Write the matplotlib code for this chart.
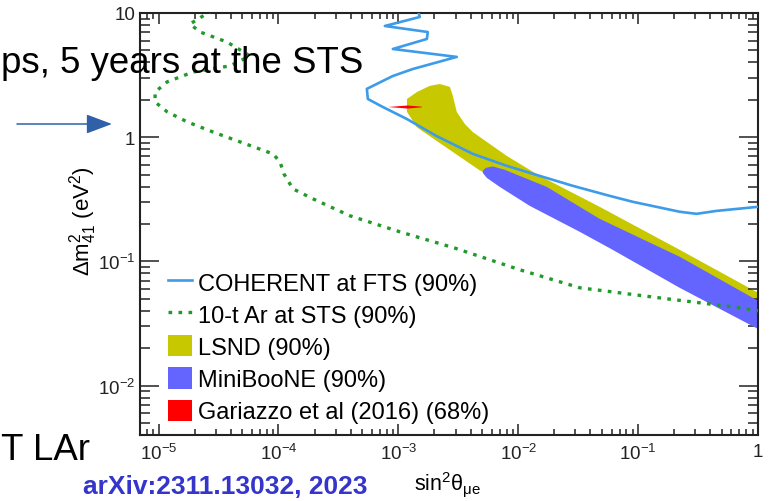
import matplotlib
matplotlib.use("Agg")
import matplotlib.pyplot as plt
import numpy as np
from matplotlib.ticker import FuncFormatter, LogLocator, NullFormatter
from matplotlib.lines import Line2D
from matplotlib.patches import Patch

plt.rcParams['font.family'] = ['Liberation Sans', 'DejaVu Sans']
plt.rcParams['mathtext.fontset'] = 'custom'
plt.rcParams['mathtext.rm'] = 'Liberation Sans'
plt.rcParams['mathtext.it'] = 'Liberation Sans:italic'
plt.rcParams['mathtext.default'] = 'regular'

# COHERENT at FTS (90%) contour
coh_x = np.array([1.45e-3, 1.51e-3, 7.72e-4, 1.76e-3, 1.73e-3, 9.0e-4, 3.07e-3, 1.32e-3,
                  9.0e-4, 5.46e-4, 5.57e-4, 7.43e-4, 1.18e-3, 2.09e-3, 4.18e-3, 8.02e-3,
                  0.0151, 0.0285, 0.0579, 0.090, 0.222, 0.307, 0.451, 1.0])
coh_y = np.array([10.5, 9.29, 7.86, 7.03, 6.18, 5.13, 4.43, 3.54,
                  3.11, 2.45, 2.03, 1.75, 1.40, 1.02, 0.734, 0.588,
                  0.488, 0.406, 0.337, 0.302, 0.251, 0.2415, 0.255, 0.275])

# 10-t Ar at STS (90%) sensitivity
ar_x = np.array([2.79e-5, 1.83e-5, 2.22e-5, 3.72e-5, 5.79e-5, 3.94e-5, 1.94e-5, 1.18e-5,
                 9.35e-6, 9.35e-6, 1.18e-5, 1.73e-5, 2.85e-5, 4.78e-5, 9.0e-5, 1.03e-4,
                 1.11e-4, 1.32e-4, 1.94e-4, 3.94e-4, 1.03e-3, 2.96e-3, 0.0103, 0.0326,
                 0.173, 0.613, 1.0])
ar_y = np.array([10.5, 8.16, 7.03, 5.84, 4.51, 3.75, 3.35, 2.79,
                 2.31, 1.92, 1.60, 1.33, 1.10, 0.917, 0.734, 0.633,
                 0.507, 0.384, 0.319, 0.233, 0.173, 0.128, 0.0856, 0.0613,
                 0.050, 0.0431, 0.0400])

# LSND (90%) region outline
lsnd_x = np.array([2.22e-3, 2.69e-3, 2.85e-3, 3.07e-3, 3.58e-3, 4.18e-3, 8.02e-3, 0.0151,
                   0.0478, 0.222, 1.0, 1.0, 0.222, 0.0478, 0.01247, 4.78e-3,
                   2.54e-3, 1.43e-3, 1.18e-3, 1.18e-3, 1.43e-3, 1.83e-3])
lsnd_y = np.array([2.68, 2.54, 2.15, 1.60, 1.28, 1.10, 0.707, 0.488,
                   0.275, 0.124, 0.0559, 0.0456, 0.0905, 0.190, 0.350, 0.540,
                   0.820, 1.20, 1.60, 2.03, 2.31, 2.59])

# MiniBooNE (90%) region outline
mb_x = np.array([5.06e-3, 5.36e-3, 6.13e-3, 7.72e-3, 0.0173, 0.0478, 0.222, 1.0,
                 1.0, 0.222, 0.0613, 0.0326, 0.01247, 7.01e-3, 5.46e-3, 5.06e-3])
mb_y = np.array([0.536, 0.566, 0.582, 0.546, 0.398, 0.220, 0.109, 0.0482,
                 0.0286, 0.0613, 0.124, 0.173, 0.280, 0.398, 0.471, 0.516])

# Gariazzo et al (2016) (68%) best-fit sliver
gar_x = np.array([8.2e-4, 1.2e-3, 1.57e-3, 1.57e-3, 1.2e-3])
gar_y = np.array([1.75, 1.80, 1.76, 1.74, 1.70])

labels = ["COHERENT at FTS (90%)", "10-t Ar at STS (90%)", "LSND (90%)",
          "MiniBooNE (90%)", "Gariazzo et al (2016) (68%)"]

blue = '#3d9be9'
green = '#229a2a'
yellow = '#c8c800'
purple = '#6464ff'
red = '#ff0000'

W, H = 774, 502
fig = plt.figure(figsize=(W / 100, H / 100), dpi=100)
ax = fig.add_axes([140 / W, 1 - 436 / H, (758 - 140) / W, (436 - 14) / H])

ax.fill(lsnd_x, lsnd_y, color=yellow, lw=0, zorder=1)
ax.fill(mb_x, mb_y, color=purple, lw=0, zorder=2)
ax.fill(gar_x, gar_y, color=red, lw=0, zorder=3)
ax.plot(coh_x, coh_y, color=blue, lw=1.9, zorder=4)
ax.plot(ar_x, ar_y, color=green, lw=2.4, linestyle=(0, (1.1, 1.9)), zorder=5)

ax.set_xscale('log')
ax.set_yscale('log')
ax.set_xlim(7.0e-6, 1.0)
ax.set_ylim(4.0e-3, 10.0)


def logfmt(v, pos):
    if abs(v - 1) < 1e-9:
        return '1'
    if abs(v - 10) < 1e-9:
        return '10'
    return r'$10^{%d}$' % int(round(np.log10(v)))


ax.xaxis.set_major_locator(LogLocator(base=10, numticks=10))
ax.yaxis.set_major_locator(LogLocator(base=10, numticks=10))
ax.xaxis.set_minor_locator(LogLocator(base=10, subs=np.arange(2, 10), numticks=20))
ax.yaxis.set_minor_locator(LogLocator(base=10, subs=np.arange(2, 10), numticks=20))
ax.xaxis.set_major_formatter(FuncFormatter(logfmt))
ax.yaxis.set_major_formatter(FuncFormatter(logfmt))
ax.xaxis.set_minor_formatter(NullFormatter())
ax.yaxis.set_minor_formatter(NullFormatter())

ax.tick_params(which='both', direction='in', top=True, right=True, width=1.1, colors='#222222')
ax.tick_params(axis='x', which='major', length=8, pad=6, labelsize=13.5)
ax.tick_params(axis='x', which='minor', length=4)
ax.tick_params(axis='y', which='major', length=14, pad=3.5, labelsize=13.5)
ax.tick_params(axis='y', which='minor', length=7)
for s in ax.spines.values():
    s.set_linewidth(1.5)
    s.set_color('#222222')

ax.set_xlabel(r'sin$^2$θ$_{\mu e}$', fontsize=15.5)
ax.xaxis.set_label_coords((448 - 140) / 618, -(470 - 436) / 422)
ax.set_ylabel(r'$\Delta m^2_{41}$ (eV$^2$)', fontsize=16)
ax.yaxis.set_label_coords(-(140 - 99) / 618, 0.51)

handles = [Line2D([], [], color=blue, lw=1.9),
           Line2D([], [], color=green, lw=2.4, linestyle=(0, (1.1, 1.9))),
           Patch(facecolor=yellow, lw=0),
           Patch(facecolor=purple, lw=0),
           Patch(facecolor=red, lw=0)]
fig.legend(handles, labels, loc='upper left', bbox_to_anchor=(168 / W, 1 - 272 / H),
           bbox_transform=fig.transFigure, frameon=False, fontsize=17,
           borderpad=0, borderaxespad=0, handlelength=1.0, handleheight=1.0,
           handletextpad=0.25, labelspacing=0.36)

# slide text around the figure
fig.text(363 / W, 1 - 73 / H, 'ps, 5 years at the STS', ha='right', va='baseline',
         fontsize=26.4, color='black', zorder=10)
fig.text(90 / W, 1 - 460 / H, 'T LAr', ha='right', va='baseline',
         fontsize=26.4, color='black', zorder=10)
fig.text(225 / W, 1 - 487 / H, 'arXiv:2311.13032, 2023', ha='center', va='center',
         fontsize=19, fontweight='bold', color='#3535cc', zorder=10)
ax.annotate('', xy=(112, H - 125), xycoords='figure pixels',
            xytext=(17, H - 125), textcoords='figure pixels',
            arrowprops=dict(arrowstyle='-|>,head_length=1.6,head_width=0.6',
                            mutation_scale=10, lw=1.1, color='#3060a8',
                            shrinkA=0, shrinkB=0))

fig.savefig('out.png', dpi=100)
